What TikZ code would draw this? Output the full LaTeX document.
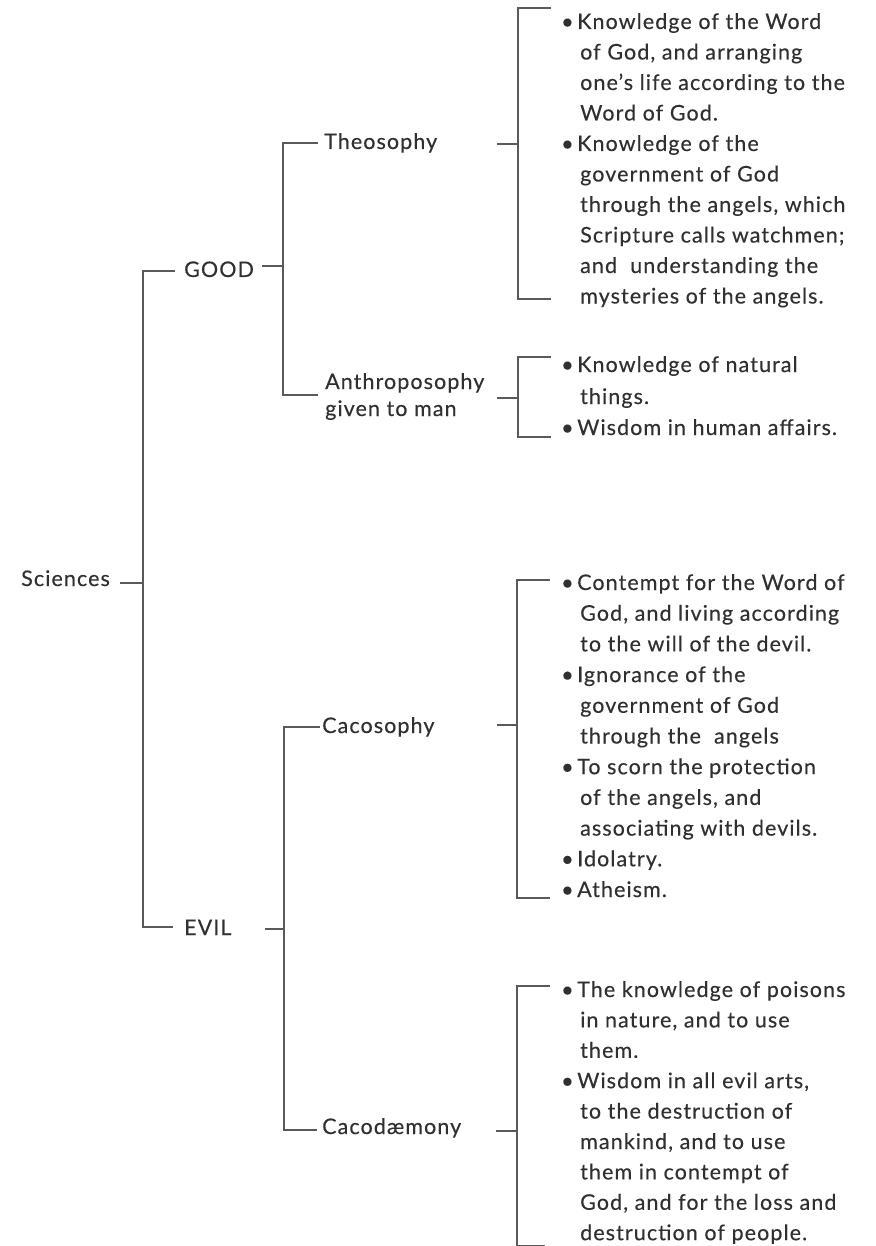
\documentclass[tikz,border=0pt]{standalone}
\usepackage{fontspec}
\setmainfont{Lato}[LetterSpace=5.0,FakeBold=0.25]
\definecolor{txt}{HTML}{303030}
\definecolor{ln}{HTML}{5A5A5A}
\newcommand\myfs{\fontsize{21.5}{30.5}\selectfont}
\begin{document}
\begin{tikzpicture}[x=1pt,y=-1pt,
  every node/.style={inner sep=0pt, anchor=base west, text=txt, font=\myfs},
  conn/.style={draw=ln, line width=1.5pt}]
\useasboundingbox[fill=white] (0,0) rectangle (875,1246);

% ---- labels ----
\node (sci) at (21,586) {Sciences};
\node (good) at (184,277) {GOOD};
\node (evil) at (184,935) {EVIL};
\node (theo) at (324,149) {Theosophy};
\node (anth) at (325,389) {Anthroposophy};
\node (anth2) at (325,416) {given to man};
\node (caco) at (322,733) {Cacosophy};
\node (cacod) at (322,1134) {Cacodæmony};

% ---- junction coordinates ----
\coordinate (sciR) at (120,583);
\coordinate (j0) at (143,583);
\coordinate (goodL) at (175,271);
\coordinate (evilL) at (173,927);
\coordinate (goodR) at (262,266);
\coordinate (j1) at (283,266);
\coordinate (theoL) at (318,143);
\coordinate (anthL) at (318,395);
\coordinate (evilR) at (265,929);
\coordinate (j2) at (284,929);
\coordinate (cacoL) at (320,727);
\coordinate (cacodL) at (317,1130);
\coordinate (theoR) at (497,144);
\coordinate (b1) at (518,144);
\coordinate (b1t) at (551,8);
\coordinate (b1b) at (551,299);
\coordinate (anthR) at (497,398);
\coordinate (b2) at (518,398);
\coordinate (b2t) at (551,357);
\coordinate (b2b) at (551,437);
\coordinate (cacoR) at (497,725);
\coordinate (b3) at (517,725);
\coordinate (b3t) at (550,580);
\coordinate (b3b) at (550,898);
\coordinate (cacodR) at (496,1131);
\coordinate (b4) at (517,1131);
\coordinate (b4t) at (550,986);
\coordinate (b4b) at (545,1245.5);

% ---- connectors ----
\draw[conn] (sciR) -- (j0);
\draw[conn] (goodL) -| (j0) |- (evilL);
\draw[conn] (goodR) -- (j1);
\draw[conn] (theoL) -| (j1) |- (anthL);
\draw[conn] (evilR) -- (j2);
\draw[conn] (cacoL) -| (j2) |- (cacodL);
\draw[conn] (theoR) -- (b1);
\draw[conn] (b1t) -| (b1) |- (b1b);
\draw[conn] (anthR) -- (b2);
\draw[conn] (b2t) -| (b2) |- (b2b);
\draw[conn] (cacoR) -- (b3);
\draw[conn] (b3t) -| (b3) |- (b3b);
\draw[conn] (cacodR) -- (b4);
\draw[conn] (b4t) -| (b4) |- (b4b);

% ---- Theosophy items ----
\node (tb1) at (561,29) {•};
\node (t1) at (577,29) {Knowledge of the Word};
\node (t2) at (580,59.5) {of God, and arranging};
\node (t3) at (580,90) {one’s life according to the};
\node (t4) at (580,120.5) {Word of God.};
\node (tb2) at (561,151) {•};
\node (t5) at (577,151) {Knowledge of the};
\node (t6) at (580,181.5) {government of God};
\node (t7) at (580,212) {through the angels, which};
\node (t8) at (580,242.5) {Scripture calls watchmen;};
\node (t9) at (580,273) {and\ \ understanding the};
\node (t10) at (580,303.5) {mysteries of the angels.};

% ---- Anthroposophy items ----
\node (ab1) at (561,372) {•};
\node (a1) at (577,372) {Knowledge of natural};
\node (a2) at (580,404) {things.};
\node (ab2) at (561,435) {•};
\node (a3) at (577,435) {Wisdom in human affairs.};

% ---- Cacosophy items ----
\node (cb1) at (561,590) {•};
\node (c1) at (577,590) {Contempt for the Word of};
\node (c2) at (580,620.7) {God, and living according};
\node (c3) at (580,651.4) {to the will of the devil.};
\node (cb2) at (561,682.1) {•};
\node (c4) at (577,682.1) {Ignorance of the};
\node (c5) at (580,712.8) {government of God};
\node (c6) at (580,743.5) {through the\ \ angels};
\node (cb3) at (561,774.2) {•};
\node (c7) at (577,774.2) {To scorn the protection};
\node (c8) at (580,804.9) {of the angels, and};
\node (c9) at (580,835.6) {associating with devils.};
\node (cb4) at (561,866.3) {•};
\node (c10) at (577,866.3) {Idolatry.};
\node (cb5) at (561,897) {•};
\node (c11) at (577,897) {Atheism.};

% ---- Cacodaemony items ----
\node (db1) at (561,997) {•};
\node (d1) at (577,997) {The knowledge of poisons};
\node (d2) at (580,1027.4) {in nature, and to use};
\node (d3) at (580,1057.8) {them.};
\node (db2) at (561,1088.2) {•};
\node (d4) at (577,1088.2) {Wisdom in all evil arts,};
\node (d5) at (580,1118.6) {to the destruction of};
\node (d6) at (580,1149) {mankind, and to use};
\node (d7) at (580,1179.4) {them in contempt of};
\node (d8) at (580,1209.8) {God, and for the loss and};
\node (d9) at (580,1240.2) {destruction of people.};
\end{tikzpicture}
\end{document}
